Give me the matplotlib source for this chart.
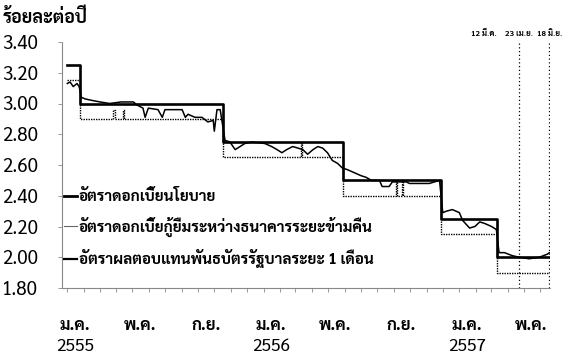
import pandas as pd
import numpy as np
import matplotlib
matplotlib.use("Agg")
import matplotlib.pyplot as plt
import matplotlib.dates as mdates
from matplotlib.lines import Line2D

plt.rcParams['font.family'] = ['Sarabun', 'Noto Sans Thai', 'DejaVu Sans']

# อัตราดอกเบี้ยนโยบาย
policy_dates = ['2012-01-01', '2012-01-25', '2012-10-17', '2013-05-29',
                '2013-11-27', '2014-03-12', '2014-06-18']
policy_rate = [3.25, 3.00, 2.75, 2.50, 2.25, 2.00, 2.00]

# อัตราดอกเบี้ยกู้ยืมระหว่างธนาคารระยะข้ามคืน
interbank_dates = ['2012-01-01', '2012-01-25', '2012-03-27', '2012-03-29',
                   '2012-04-13', '2012-04-15', '2012-10-17', '2013-03-12',
                   '2013-03-14', '2013-05-29', '2013-09-05', '2013-09-07',
                   '2013-09-16', '2013-09-18', '2013-11-27', '2014-03-12',
                   '2014-06-18']
interbank_rate = [3.15, 2.90, 2.96, 2.90, 2.96, 2.90, 2.65, 2.75, 2.65, 2.40,
                  2.50, 2.40, 2.50, 2.40, 2.15, 1.90, 1.90]

# อัตราผลตอบแทนพันธบัตรรัฐบาลระยะ 1 เดือน
bond_dates = ['2012-01-01', '2012-01-06', '2012-01-12', '2012-01-19', '2012-01-23',
              '2012-01-27', '2012-02-03', '2012-02-16', '2012-03-02', '2012-03-20',
              '2012-04-10', '2012-05-03', '2012-05-10', '2012-05-21', '2012-05-25',
              '2012-05-31', '2012-06-18', '2012-06-26', '2012-07-01', '2012-08-02',
              '2012-08-08', '2012-08-13', '2012-08-26', '2012-09-08', '2012-09-19',
              '2012-09-29', '2012-10-01', '2012-10-06', '2012-10-12', '2012-10-21',
              '2012-10-30', '2012-11-09', '2012-11-18', '2012-11-27', '2012-12-10',
              '2013-01-03', '2013-01-16', '2013-01-26', '2013-02-04', '2013-02-13',
              '2013-02-24', '2013-03-06', '2013-03-15', '2013-03-24', '2013-04-03',
              '2013-04-12', '2013-04-21', '2013-04-30', '2013-05-09', '2013-05-19',
              '2013-05-28', '2013-06-06', '2013-06-19', '2013-07-02', '2013-07-11',
              '2013-07-21', '2013-08-05', '2013-08-10', '2013-08-23', '2013-08-29',
              '2013-09-24', '2013-09-30', '2013-11-06', '2013-11-25', '2013-12-01',
              '2013-12-08', '2013-12-19', '2014-01-01', '2014-01-07', '2014-01-20',
              '2014-01-30', '2014-02-08', '2014-02-17', '2014-03-02', '2014-03-11',
              '2014-03-16', '2014-03-26', '2014-04-10', '2014-04-23', '2014-05-11',
              '2014-05-30', '2014-06-14', '2014-06-18']
bond_yield = [3.13, 3.14, 3.11, 3.13, 3.11,
              3.04, 3.03, 3.02, 3.01, 3.00,
              3.01, 3.01, 2.99, 2.97, 2.91,
              2.97, 2.96, 2.91, 2.96, 2.96,
              2.91, 2.93, 2.91, 2.91, 2.88,
              2.89, 2.82, 2.96, 2.96, 2.76,
              2.75, 2.70, 2.72, 2.74, 2.75,
              2.74, 2.72, 2.70, 2.68, 2.70,
              2.72, 2.71, 2.70, 2.67, 2.70,
              2.72, 2.71, 2.68, 2.63, 2.61,
              2.58, 2.57, 2.55, 2.53, 2.52,
              2.50, 2.50, 2.46, 2.46, 2.49,
              2.49, 2.48, 2.48, 2.50, 2.29,
              2.30, 2.31, 2.29, 2.24, 2.19,
              2.20, 2.23, 2.22, 2.20, 2.18,
              2.03, 2.03, 2.01, 2.00, 1.99,
              2.00, 2.02, 2.03]

# วันประชุม กนง. ปี 2557
meeting_dates = ['2014-03-12', '2014-04-23', '2014-06-18']
meeting_labels = ['12 มี.ค.', '23 เม.ย.', '18 มิ.ย.']

tick_dates = ['2012-01-15', '2012-05-15', '2012-09-15', '2013-01-15',
              '2013-05-15', '2013-09-15', '2014-01-15', '2014-05-15']
month_labels = ['ม.ค.', 'พ.ค.', 'ก.ย.', 'ม.ค.', 'พ.ค.', 'ก.ย.', 'ม.ค.', 'พ.ค.']
year_dates = ['2012-01-15', '2013-01-15', '2014-01-15']
year_labels = ['2555', '2556', '2557']

y_ticks = [1.80, 2.00, 2.20, 2.40, 2.60, 2.80, 3.00, 3.20, 3.40]

fig = plt.figure(figsize=(5.69, 3.56), dpi=100)
ax = fig.add_axes([62 / 569, 68 / 356, 488 / 569, 246 / 356])

ax.plot(pd.to_datetime(interbank_dates), interbank_rate, drawstyle='steps-post',
        color='black', lw=1.0, ls=(0, (1, 0.8)))
ax.plot(pd.to_datetime(bond_dates), bond_yield, color='black', lw=1.1)
ax.plot(pd.to_datetime(policy_dates), policy_rate, drawstyle='steps-post',
        color='black', lw=1.9)

for d in meeting_dates[1:]:
    ax.axvline(pd.to_datetime(d), color='black', lw=0.9, ls=(0, (1, 2)))
for d, lab, ha in zip(meeting_dates, meeting_labels, ['right', 'center', 'center']):
    ax.text(pd.to_datetime(d), 3.455, lab, ha=ha, va='center', fontsize=5.8,
            fontweight='bold', clip_on=False)

ax.set_xlim(pd.to_datetime('2011-12-22'), pd.to_datetime('2014-06-19'))
ax.set_ylim(1.80, 3.40)
ax.set_yticks(y_ticks)
ax.set_yticklabels([f"{v:.2f}" for v in y_ticks], fontsize=13.5)
ax.set_xticks(pd.to_datetime(tick_dates))
ax.set_xticklabels(month_labels, fontsize=12, fontweight='bold')
ax.xaxis.set_minor_locator(mdates.MonthLocator())
ax.tick_params(axis='x', which='major', length=0, pad=21)
ax.tick_params(axis='x', which='minor', length=3, width=0.6, color='#888888')
ax.tick_params(axis='y', length=3, width=0.6, color='#888888', pad=14)

for d, lab in zip(year_dates, year_labels):
    ax.annotate(lab, xy=(pd.to_datetime(d), 0), xycoords=('data', 'axes fraction'),
                xytext=(0, -42), textcoords='offset points', ha='center',
                va='center', fontsize=12.5)

for s in ['top', 'right']:
    ax.spines[s].set_visible(False)
for s in ['left', 'bottom']:
    ax.spines[s].set_linestyle((0, (1, 1)))
    ax.spines[s].set_color('#888888')
    ax.spines[s].set_linewidth(0.8)

handles = [Line2D([], [], color='black', lw=2.0),
           Line2D([], [], color='#666666', lw=0.8),
           Line2D([], [], color='black', lw=1.6)]
labels = ['อัตราดอกเบี้ยนโยบาย',
          'อัตราดอกเบี้ยกู้ยืมระหว่างธนาคารระยะข้ามคืน',
          'อัตราผลตอบแทนพันธบัตรรัฐบาลระยะ 1 เดือน']
leg = ax.legend(handles, labels, loc='lower left', bbox_to_anchor=(-0.025, 0.025),
                frameon=False, handlelength=0.9, handletextpad=0.1,
                labelspacing=0.8, prop={'size': 11, 'weight': 'bold'})

fig.text(3 / 569, 1 - 18 / 356, 'ร้อยละต่อปี', fontsize=13, fontweight='bold',
         va='center', ha='left')

fig.savefig('out.png', dpi=100)
